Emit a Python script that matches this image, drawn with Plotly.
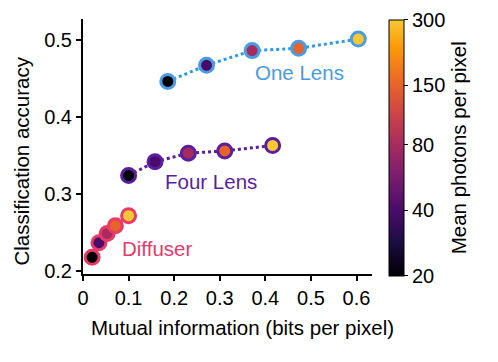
import numpy as np
import plotly.graph_objects as go
from plotly.colors import sample_colorscale

# ---- data ----
photons = [20, 40, 80, 150, 300]

one_lens_mi = [0.186, 0.271, 0.371, 0.473, 0.604]
one_lens_acc = [0.446, 0.467, 0.486, 0.489, 0.501]

four_lens_mi = [0.100, 0.158, 0.231, 0.311, 0.416]
four_lens_acc = [0.324, 0.342, 0.353, 0.356, 0.363]

diffuser_mi = [0.020, 0.035, 0.053, 0.071, 0.100]
diffuser_acc = [0.218, 0.237, 0.249, 0.259, 0.272]

x_ticks = [0, 0.1, 0.2, 0.3, 0.4, 0.5, 0.6]
x_ticktext = ["0", "0.1", "0.2", "0.3", "0.4", "0.5", "0.6"]
y_ticks = [0.2, 0.3, 0.4, 0.5]
y_ticktext = ["0.2", "0.3", "0.4", "0.5"]
cb_ticks = [20, 40, 80, 150, 300]

FONT = "Liberation Sans, Arial, Helvetica, sans-serif"
FS = 20
FT = 20.5

# truncated inferno colormap
inferno = ['#000004', '#1b0c41', '#4a0c6b', '#781c6d', '#a52c60',
           '#cf4446', '#ed6925', '#fb9b06', '#f7d13d', '#fcffa4']
base_scale = [[i / 9, c] for i, c in enumerate(inferno)]
n = 40
pos = [i / (n - 1) for i in range(n)]
cols = sample_colorscale(base_scale, [p * 0.87 for p in pos])
cscale = [[p, c] for p, c in zip(pos, cols)]

cmin = np.log10(20)
cmax = np.log10(300)
logp = np.log10(photons)

series = [
    ("One Lens", one_lens_mi, one_lens_acc, "#4a9de2", "#2b9be8"),
    ("Four Lens", four_lens_mi, four_lens_acc, "#5a1e9e", "#5a1e9e"),
    ("Diffuser", diffuser_mi, diffuser_acc, "#e83a68", "#e83a68"),
]

fig = go.Figure()
for i, (name, xs, ys, edge, linec) in enumerate(series):
    fig.add_trace(go.Scatter(
        x=xs, y=ys, mode="lines+markers", name=name,
        line=dict(color=linec, width=3, dash="dot"),
        marker=dict(
            size=14, color=logp, colorscale=cscale, cmin=cmin, cmax=cmax,
            line=dict(color=edge, width=3),
            showscale=(i == 0),
            colorbar=dict(
                x=1.059, xanchor="left", y=0.495, yanchor="middle",
                len=1.003, lenmode="fraction", thickness=15,
                xpad=0, ypad=0,
                outlinewidth=1, outlinecolor="black",
                tickvals=list(np.log10(cb_ticks)),
                ticktext=[str(v) for v in cb_ticks],
                ticks="outside", ticklen=4, tickcolor="black",
                tickfont=dict(family=FONT, size=FS, color="black"),
                title=dict(text="Mean photons per pixel", side="right",
                           font=dict(family=FONT, size=FT, color="black")),
            ),
        ),
        showlegend=False,
    ))

annots = [
    dict(x=0.373, y=0.4576, text="One Lens", font=dict(color="#4a9be0")),
    dict(x=0.175, y=0.3164, text="Four Lens", font=dict(color="#5c1ea0")),
    dict(x=0.0807, y=0.2292, text="Diffuser", font=dict(color="#e83a68")),
]
for a in annots:
    fig.add_annotation(x=a["x"], y=a["y"], text=a["text"], showarrow=False,
                       xanchor="left", yanchor="middle",
                       font=dict(family=FONT, size=FT, color=a["font"]["color"]))

fig.add_annotation(xref="paper", yref="paper", x=0.553, y=-0.21,
                   text="Mutual information (bits per pixel)", showarrow=False,
                   xanchor="center", yanchor="middle",
                   font=dict(family=FONT, size=FT, color="black"))
fig.add_annotation(xref="paper", yref="paper", x=-0.212, y=0.444,
                   text="Classification accuracy", showarrow=False, textangle=-90,
                   xanchor="center", yanchor="middle",
                   font=dict(family=FONT, size=FT, color="black"))

fig.update_xaxes(range=[0, 0.634], tickvals=x_ticks, ticktext=x_ticktext,
                 showline=True, linecolor="black", linewidth=2, automargin=False,
                 ticks="outside", ticklen=5, tickwidth=1.5, tickcolor="black",
                 showgrid=False, zeroline=False,
                 tickfont=dict(family=FONT, size=FS, color="black"))
fig.update_yaxes(range=[0.1964, 0.527], tickvals=y_ticks, ticktext=y_ticktext,
                 showline=True, linecolor="black", linewidth=2, automargin=False,
                 ticks="outside", ticklen=5, tickwidth=1.5, tickcolor="black",
                 showgrid=False, zeroline=False,
                 tickfont=dict(family=FONT, size=FS, color="black"))

# page body has an 8px margin; size the figure so the plot lands where the reference has it
fig.update_layout(
    template="none",
    width=490, height=354,
    margin=dict(l=75, r=126, t=11, b=88, pad=0),
    paper_bgcolor="white", plot_bgcolor="white",
    font=dict(family=FONT, size=FS, color="black"),
)

fig.write_html("out.html")
